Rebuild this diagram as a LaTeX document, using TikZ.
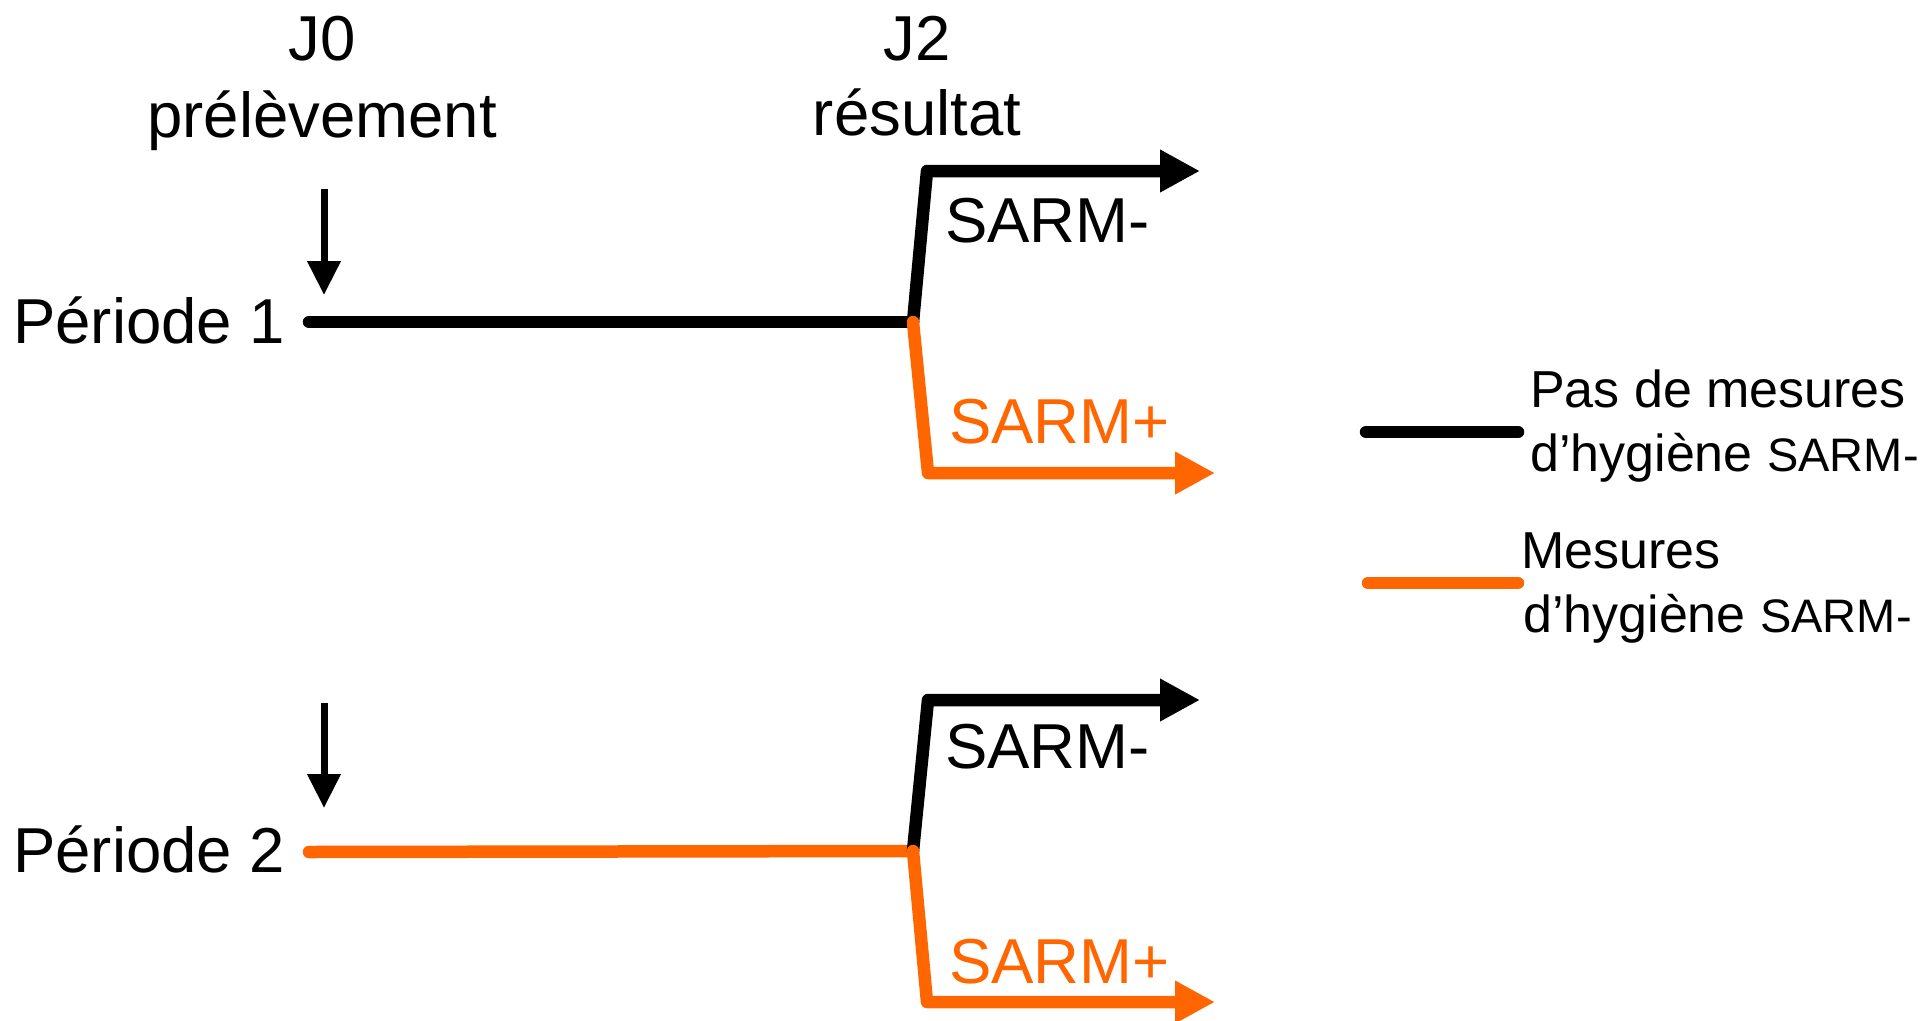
\documentclass[tikz,border=0pt]{standalone}
\usepackage{fontspec}
\setmainfont{Liberation Sans}
\usetikzlibrary{arrows.meta}
\definecolor{hygorange}{HTML}{FF6600}
\begin{document}
\begin{tikzpicture}[x=1pt,y=-1pt,
  track/.style={line width=12.5pt,line cap=round,line join=round},
  negtrack/.style={track,draw=black},
  postrack/.style={track,draw=hygorange},
  branchtip/.style={-{Triangle[length=40pt,width=40pt]}},
  dayarrow/.style={line width=7pt,-{Triangle[length=34pt,width=32pt]}},
  big/.style={inner sep=0pt,font=\fontsize{63.5}{77}\selectfont},
  leg/.style={inner sep=0pt,font=\fontsize{52}{62}\selectfont}]
\useasboundingbox (0,0) rectangle (1930,1020);

% column headings
\node[big,anchor=base] (j0) at (322,60) {J0};
\node[big,anchor=base] (j0lbl) at (322,137) {prélèvement};
\node[big,anchor=base] (j2) at (917,60) {J2};
\node[big,anchor=base] (j2lbl) at (917,135) {résultat};

% period labels
\node[big,anchor=base west] (per1) at (13,343) {Période 1};
\node[big,anchor=base west] (per2) at (13,872) {Période 2};

% timeline points
\coordinate (a1s) at (324,189);
\coordinate (a1e) at (324,295);
\coordinate (a2s) at (324,703);
\coordinate (a2e) at (324,808);

\coordinate (p1start) at (309,322);
\coordinate (p1fork) at (913,322);
\coordinate (p1up) at (927,171);
\coordinate (p1upend) at (1200,171);
\coordinate (p1down) at (928,473);
\coordinate (p1downend) at (1215,473);

\coordinate (p2start) at (309,852);
\coordinate (p2fork) at (913,851);
\coordinate (p2up) at (928,700);
\coordinate (p2upend) at (1200,700);
\coordinate (p2down) at (927,1002);
\coordinate (p2downend) at (1215,1002);

% sampling arrows
\draw[dayarrow] (a1s) -- (a1e);
\draw[dayarrow] (a2s) -- (a2e);

% period 1
\draw[negtrack] (p1start) -- (p1fork);
\draw[negtrack,branchtip] (p1fork) -- (p1up) -- (p1upend);
\draw[postrack,branchtip] (p1fork) -- (p1down) -- (p1downend);

% period 2
\draw[postrack] (p2start) -- (p2fork);
\draw[negtrack,branchtip] (p2fork) -- (p2up) -- (p2upend);
\draw[postrack,branchtip] (p2fork) -- (p2down) -- (p2downend);

% branch labels
\node[big,anchor=base west] (neg1) at (945,242) {SARM-};
\node[big,anchor=base west,text=hygorange] (pos1) at (949,443) {SARM+};
\node[big,anchor=base west] (neg2) at (945,768) {SARM-};
\node[big,anchor=base west,text=hygorange] (pos2) at (949,983) {SARM+};

% legend
\coordinate (legnegA) at (1366,432);
\coordinate (legnegB) at (1518,432);
\coordinate (legposA) at (1368,583);
\coordinate (legposB) at (1518,583);
\draw[negtrack] (legnegA) -- (legnegB);
\draw[postrack] (legposA) -- (legposB);
\node[leg,anchor=base west] (legneg1) at (1530,407) {Pas de mesures};
\node[leg,anchor=base west] (legneg2) at (1530,471) {d’hygiène {\fontsize{47}{56}\selectfont SARM-}};
\node[leg,anchor=base west] (legpos1) at (1521,568) {Mesures};
\node[leg,anchor=base west] (legpos2) at (1523,632) {d’hygiène {\fontsize{47}{56}\selectfont SARM-}};
\end{tikzpicture}
\end{document}
